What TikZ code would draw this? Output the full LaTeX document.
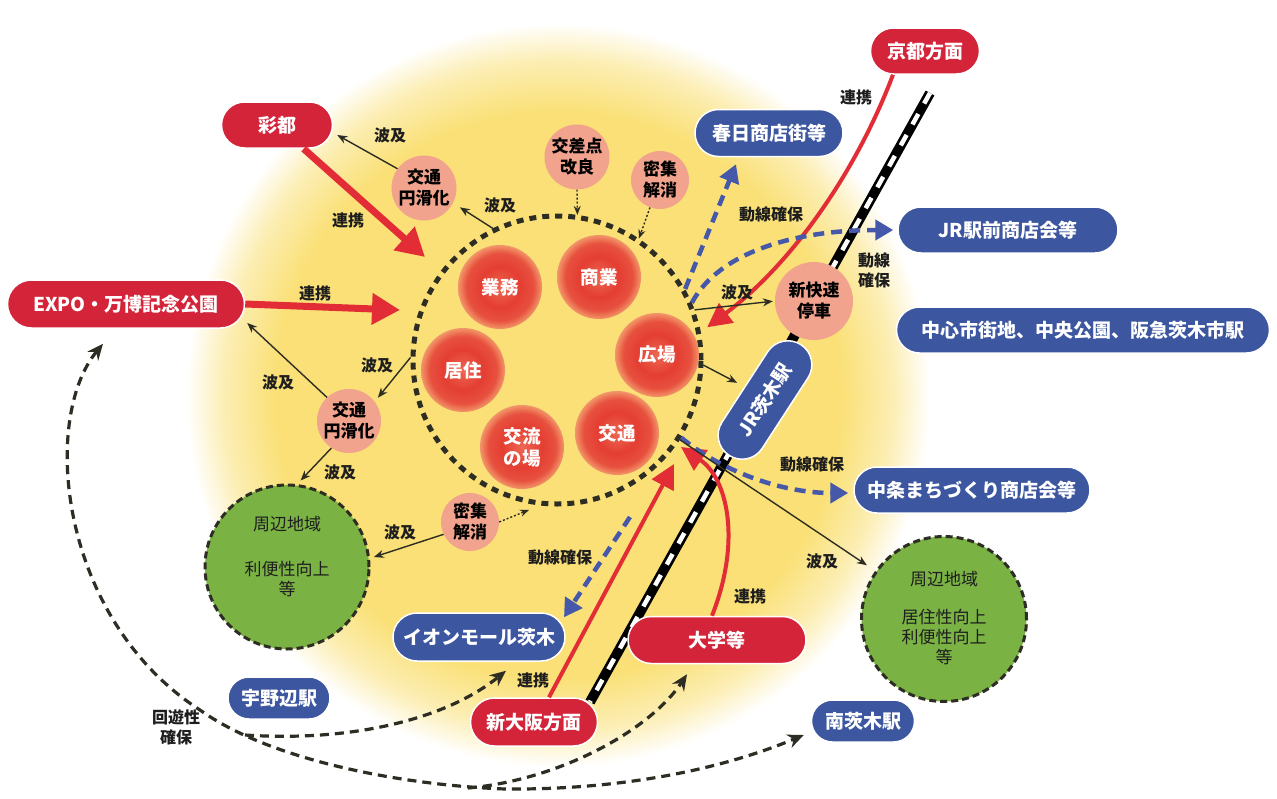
\documentclass[tikz,border=0pt]{standalone}
\usepackage{fontspec}
\setmainfont{Noto Sans CJK JP}
\usetikzlibrary{arrows.meta,shapes.misc,shapes.geometric}
\definecolor{bgyel}{RGB}{250,224,118}
\definecolor{bgyel2}{RGB}{252,238,180}
\definecolor{pillred}{RGB}{212,36,58}
\definecolor{pillblue}{RGB}{60,86,160}
\definecolor{arrred}{RGB}{226,44,54}
\definecolor{dashblue}{RGB}{70,88,170}
\definecolor{peach}{RGB}{241,163,141}
\definecolor{grn}{RGB}{122,178,68}
\definecolor{darkln}{RGB}{45,45,35}
\definecolor{lbltxt}{RGB}{30,30,30}
\definecolor{rbA}{RGB}{236,104,82}
\definecolor{rbB}{RGB}{228,62,50}
\definecolor{rbC}{RGB}{231,80,62}
\definecolor{rbD}{RGB}{242,150,105}
\pgfdeclareradialshading{glow}{\pgfpoint{0bp}{0bp}}{color(0bp)=(bgyel); color(19bp)=(bgyel); color(22.5bp)=(bgyel2); color(25bp)=(white); color(50bp)=(white)}
\pgfdeclareradialshading{redball}{\pgfpoint{0bp}{0bp}}{color(0bp)=(rbA); color(12bp)=(rbB); color(20bp)=(rbC); color(25bp)=(rbD); color(50bp)=(rbD)}
\newcommand\fs[2]{\fontsize{#1}{#2}\selectfont}
\begin{document}
\begin{tikzpicture}[x=1pt,y=-1pt,
  pill/.style={rounded rectangle, draw=white, line width=1.5pt, text=white, font=\bfseries\fs{19}{21}, inner sep=0pt, minimum height=46pt},
  redpill/.style={pill, fill=pillred},
  bluepill/.style={pill, fill=pillblue},
  ball/.style={circle, shade, shading=redball, text=white, font=\bfseries\fs{18.5}{22}, align=center, inner sep=0pt, minimum size=84pt},
  pch/.style={circle, fill=peach, text=black, font=\bfseries\fs{17}{21}, align=center, inner sep=0pt},
  gcirc/.style={circle, fill=grn, draw=darkln, line width=3pt, dash pattern=on 7pt off 4pt, inner sep=0pt},
  gtext/.style={text=lbltxt, font=\fs{17}{20}, align=center},
  lbl/.style={text=lbltxt, font=\bfseries\fs{16}{18}, align=center, inner sep=1pt},
  redthick/.style={draw=arrred, line width=7pt, -{Triangle[length=28pt,width=30pt]}},
  redthin/.style={draw=arrred, line width=4pt, -{Triangle[length=24pt,width=24pt]}},
  bluedash/.style={draw=dashblue, line width=4.5pt, dash pattern=on 11pt off 7pt, -{Triangle[length=18pt,width=20pt]}},
  thinarr/.style={draw=darkln, line width=1.4pt, -{Stealth[length=10pt,width=8pt]}},
  dotarr/.style={draw=darkln, line width=1.4pt, dash pattern=on 2pt off 2pt, -{Stealth[length=9pt,width=7pt]}},
  blkdash/.style={draw=darkln, line width=3.2pt, dash pattern=on 9pt off 6pt}
]
\useasboundingbox (0,0) rectangle (1277,798);
\fill[white] (0,0) rectangle (1277,798);
% glow
\shade[shading=glow] (558,395) circle (372);
% railway
\coordinate (rt) at (930,93);
\coordinate (rb) at (590,702);
\draw[line width=10pt, black] (rt) -- (rb);
\draw[line width=4.5pt, white, dash pattern=on 12pt off 12pt] (rt) -- (rb);

% dotted core circle
\node[circle, draw=darkln, line width=5pt, dash pattern=on 7pt off 6pt, minimum size=288pt, inner sep=0pt] (dc) at (557,360) {};

% inner functions
\node[ball] (gyomu) at (500,287) {業務};
\node[ball] (shogyo) at (599,277) {商業};
\node[ball] (kyoju) at (463,370) {居住};
\node[ball] (hiroba) at (657,355) {広場};
\node[ball] (koryu) at (522,447) {交流\\の場};
\node[ball] (kotsu) at (617,433) {交通};

% peach measures
\node[pch, minimum size=65pt] (kt1) at (424,188) {交通\\円滑化};
\node[pch, minimum size=65pt] (kousa) at (577,157) {交差点\\改良};
\node[pch, minimum size=58pt] (mitsu1) at (660,180) {密集\\解消};
\node[pch, minimum size=78pt] (shinkai) at (814,301) {新快速\\停車};
\node[pch, minimum size=64pt] (kt2) at (349,421) {交通\\円滑化};
\node[pch, minimum size=58pt] (mitsu2) at (470,522) {密集\\解消};

% green areas
\node[gcirc, minimum size=164pt] (gl) at (287,567) {};
\node[gtext] (glt) at (287,557) {周辺地域\\[25pt]利便性向上\\等};
\node[gcirc, minimum size=165pt] (grr) at (944,619) {};
\node[gtext] (grt) at (944,618) {周辺地域\\[18pt]居住性向上\\利便性向上\\等};

% red pills
\node[redpill, minimum width=109pt] (kyoto) at (925,51) {京都方面};
\node[redpill, minimum width=111pt] (saito) at (277,125) {彩都};
\node[redpill, minimum width=237pt, minimum height=48pt] (expo) at (126,304) {EXPO・万博記念公園};
\node[redpill, minimum width=178pt, minimum height=47pt] (univ) at (717,640) {大学等};
\node[redpill, minimum width=127pt, minimum height=48pt] (shinosaka) at (534,722) {新大阪方面};

% blue pills
\node[bluepill, minimum width=148pt, minimum height=47pt] (kasuga) at (769,133) {春日商店街等};
\node[bluepill, minimum width=220pt] (jrmae) at (1008,230) {JR駅前商店会等};
\node[bluepill, minimum width=373pt] (center) at (1083,330) {中心市街地、中央公園、阪急茨木市駅};
\node[bluepill, minimum width=132pt, minimum height=48pt, rotate=57] (jr) at (765,400) {JR茨木駅};
\node[bluepill, minimum width=236pt] (chujo) at (972,490) {中条まちづくり商店会等};
\node[bluepill, minimum width=172pt, minimum height=48pt] (aeon) at (479,637) {イオンモール茨木};
\node[bluepill, minimum width=102pt, minimum height=42pt] (unobe) at (279,698) {宇野辺駅};
\node[bluepill, minimum width=103pt, minimum height=42pt] (minami) at (863,721) {南茨木駅};

% tip coordinates
\coordinate (tipSaito) at (425,257);
\coordinate (tipExpo) at (400,310);
\coordinate (tipShin) at (674,464);
\coordinate (tipUniv) at (681,447);
\coordinate (sAeon) at (630,517);
\coordinate (bUnobe) at (245,735);
\coordinate (bUniv) at (468,788);

% red connectors
\draw[redthick] (saito) -- (tipSaito);
\draw[redthick] (expo.east) -- (tipExpo);
\draw[redthin, shorten >=8pt] ([xshift=-32pt]kyoto.south) .. controls (855,175) and (790,265) .. (dc.11);
\draw[redthin] ([xshift=15pt]shinosaka.north) -- (tipShin);
\draw[redthin] ([xshift=-5pt]univ.north) .. controls (742,540) and (727,478) .. (tipUniv);

% blue dashed connectors
\draw[bluedash] (dc.29) -- ([xshift=-33pt,yshift=-7pt]kasuga.south);
\draw[bluedash] (dc.23) .. controls (720,250) and (800,230) .. ([xshift=-4pt]jrmae.west);
\draw[bluedash] (dc.-32) .. controls (720,470) and (780,493) .. ([xshift=-5pt,yshift=-3pt]chujo.west);
\draw[bluedash] (sAeon) -- ([xshift=85pt,yshift=-5pt]aeon.north);

% thin spillover connectors
\draw[thinarr] (kt1.144) -- ([xshift=4pt,yshift=-10pt]saito.east);
\draw[thinarr] (dc.116) -- ([xshift=7pt,yshift=-4pt]kt1.-28);
\draw[dotarr] (kousa.south) -- (dc.82);
\draw[dotarr] (mitsu1.-110) -- (dc.56);
\draw[thinarr, shorten >=2pt] (dc.20) -- (shinkai.west);
\draw[thinarr, shorten >=8pt] (dc.-2) -- (jr.north);
\draw[thinarr, shorten >=10pt] (dc.-33) -- (grr.145);
\draw[thinarr] (kt2.133) -- ([xshift=2pt,yshift=-19pt]expo.east);
\draw[thinarr, shorten >=5pt] (dc.179) -- (kt2.37);
\draw[thinarr, shorten >=5pt] (kt2.-123) -- (gl.83);
\draw[thinarr, shorten >=4pt] (mitsu2.-155) -- (gl.6);
\draw[dotarr] (mitsu2.0) -- ([yshift=-6pt]dc.-101);

% round-trip dashed connectors
\draw[blkdash, {Stealth[length=16pt,width=14pt]}-{Stealth[length=16pt,width=14pt]}]
  ([xshift=-23pt,yshift=-15pt]expo.south) .. controls (40,420) and (60,620) .. (200,710)
  .. controls (270,760) and (400,785) .. (505,789)
  .. controls (620,790) and (720,770) .. ([xshift=-7pt,yshift=-14pt]minami.west);
\draw[blkdash, -{Stealth[length=16pt,width=14pt]}] (bUnobe) .. controls (350,742) and (445,720) .. ([xshift=27pt,yshift=-9pt]aeon.south);
\draw[blkdash, -{Stealth[length=16pt,width=14pt]}] (bUniv) .. controls (560,780) and (650,730) .. ([xshift=-30pt,yshift=-10pt]univ.south);

% labels
\node[lbl] (l1) at (390,135) {波及};
\node[lbl] (l2) at (500,205) {波及};
\node[lbl] (l3) at (348,220) {連携};
\node[lbl] (l4) at (315,293) {連携};
\node[lbl] (l5) at (278,382) {波及};
\node[lbl] (l6) at (377,365) {波及};
\node[lbl] (l7) at (340,472) {波及};
\node[lbl] (l8) at (400,532) {波及};
\node[lbl] (l9) at (560,557) {動線確保};
\node[lbl] (l10) at (533,680) {連携};
\node[lbl] (l11) at (750,596) {連携};
\node[lbl] (l12) at (822,561) {波及};
\node[lbl] (l13) at (812,464) {動線確保};
\node[lbl] (l14) at (737,292) {波及};
\node[lbl] (l15) at (771,214) {動線確保};
\node[lbl, font=\bfseries\fs{16}{20}] (l16) at (874,270) {動線\\確保};
\node[lbl] (l17) at (856,97) {連携};
\node[lbl, font=\bfseries\fs{16}{20}] (l18) at (176,727) {回遊性\\確保};
\end{tikzpicture}
\end{document}
